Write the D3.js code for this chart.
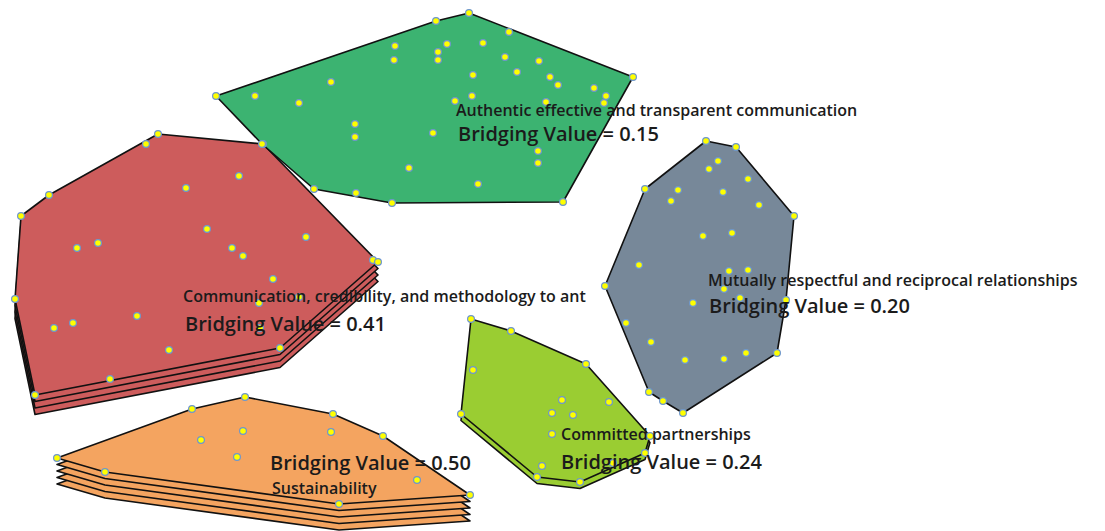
<!DOCTYPE html>
<html>
<head>
<meta charset="utf-8">
<script src="https://cdn.jsdelivr.net/npm/d3@7"></script>
<style>
  body { margin: 0; background: #fff; }
  svg { display: block; }
</style>
</head>
<body>
<svg id="map" width="1105" height="531"></svg>
<script>
// cluster names, bridging values and stack depth (number of layers)
const clusterNames = [
    'Communication, credibility, and methodology to ant',
    'Authentic effective and transparent communication',
    'Mutually respectful and reciprocal relationships',
    'Committed partnerships',
    'Sustainability'
]
const bridgingValues = [0.41, 0.15, 0.20, 0.24, 0.50]
const clusterLayers = [4, 1, 1, 2, 5]
const clusterColors = ['#cd5c5c', '#3cb371', '#778899', '#9acd32', '#f4a460']

// statement points (map coordinates) per cluster
const redPoints = [
    [158, 134], [146, 144], [263, 144], [49, 195], [21, 216], [15, 299], [35, 395],
    [110, 379], [280, 348], [373, 260], [378, 262],
    [186, 188], [239, 176], [207, 229], [232, 248], [243, 256], [306, 237], [273, 279],
    [77, 248], [98, 243], [54, 328], [73, 323], [137, 316], [169, 350], [259, 303],
    [260, 328], [299, 297]
]
const greenPoints = [
    [216, 96], [436, 21], [469, 13], [509, 32], [633, 77], [563, 202], [392, 203],
    [356, 193], [314, 189], [262, 144],
    [395, 46], [394, 60], [447, 44], [438, 52], [438, 60], [483, 43], [505, 57],
    [539, 61], [517, 72], [473, 75], [550, 77], [558, 85], [594, 88], [606, 96],
    [604, 103], [546, 102], [472, 96], [455, 101], [331, 82], [255, 96], [299, 103],
    [355, 124], [355, 137], [433, 133], [538, 151], [538, 163], [409, 168], [478, 184]
]
const slatePoints = [
    [706, 141], [736, 147], [794, 216], [786, 300], [777, 353], [683, 413], [663, 401],
    [649, 392], [605, 286], [645, 189],
    [718, 161], [709, 169], [748, 179], [678, 190], [671, 201], [723, 192], [759, 205],
    [703, 236], [732, 233], [639, 265], [729, 271], [748, 270], [724, 289], [693, 303],
    [740, 298], [626, 323], [651, 342], [685, 360], [724, 359], [746, 353]
]
const limePoints = [
    [471, 319], [511, 331], [586, 364], [650, 436], [645, 453], [580, 482], [537, 477],
    [461, 414],
    [473, 370], [562, 400], [552, 413], [573, 415], [609, 402], [552, 434], [542, 466],
    [613, 463]
]
const orangePoints = [
    [245, 397], [192, 409], [333, 414], [383, 436], [470, 495], [339, 504], [105, 472],
    [57, 458],
    [243, 431], [201, 440], [237, 457], [331, 432], [417, 480]
]
const clusterPoints = [redPoints, greenPoints, slatePoints, limePoints, orangePoints]

// label anchors (name line, value line)
const labelAnchors = [[183, 302], [456, 116], [708, 286], [561, 440], [272, 494]]
const valueAnchors = [[185, 331], [458, 141], [709, 313], [561, 469], [270, 470]]

const LAYER_STEP = 6.5

const svg = d3.select('#map')
const { width, height } = svg.node().getBoundingClientRect()

const x = d3.scaleLinear().domain([0, 1105]).range([0, width])
const y = d3.scaleLinear().domain([0, 531]).range([0, height])

const clusters = clusterNames.map((name, i) => ({
    name,
    value: bridgingValues[i],
    layers: clusterLayers[i],
    color: clusterColors[i],
    points: clusterPoints[i],
    hull: d3.polygonHull(clusterPoints[i])
}))

const line = d3.line().x(d => x(d[0])).y(d => y(d[1])).curve(d3.curveLinearClosed)

// polygons, deepest layer first
const polyG = svg.append('g')
clusters.forEach(c => {
    const g = polyG.append('g')
    for (let k = c.layers - 1; k >= 0; k--) {
        g.append('path')
            .attr('d', line(c.hull))
            .attr('transform', `translate(0, ${k * LAYER_STEP})`)
            .attr('fill', c.color)
            .attr('stroke', '#111')
            .attr('stroke-width', 1.6)
            .attr('stroke-linejoin', 'round')
    }
})

// statement points
const pointG = svg.append('g')
clusters.forEach(c => {
    pointG.selectAll(null)
        .data(c.points)
        .enter()
        .append('circle')
        .attr('cx', d => x(d[0]))
        .attr('cy', d => y(d[1]))
        .attr('r', 3.4)
        .attr('fill', '#ffff00')
        .attr('stroke', '#6b95d0')
        .attr('stroke-width', 1.2)
})

// labels
const labelG = svg.append('g')
    .style('font-family', '"Open Sans", "DejaVu Sans", sans-serif')
    .attr('fill', '#1b1b1b')
clusters.forEach((c, i) => {
    labelG.append('text')
        .attr('x', x(labelAnchors[i][0]))
        .attr('y', y(labelAnchors[i][1]))
        .style('font-size', '16px')
        .style('font-weight', 600)
        .text(c.name)
    labelG.append('text')
        .attr('x', x(valueAnchors[i][0]))
        .attr('y', y(valueAnchors[i][1]))
        .style('font-size', '20px')
        .style('font-weight', 600)
        .text(`Bridging Value = ${c.value.toFixed(2)}`)
})
</script>
</body>
</html>
